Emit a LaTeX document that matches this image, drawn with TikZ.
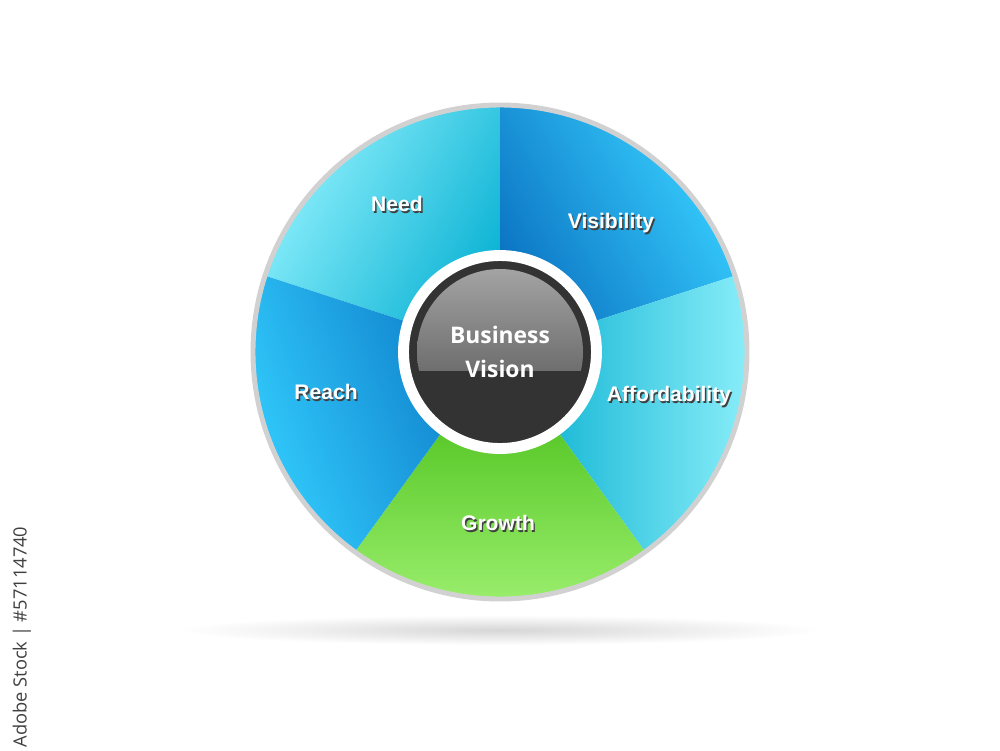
\documentclass[tikz,border=0pt]{standalone}
\usepackage{fontspec}
\setmainfont{Liberation Sans}
\newfontfamily\opensans{Open Sans}
\usetikzlibrary{positioning,calc}

\definecolor{needlight}{HTML}{8EF0FC}
\definecolor{needdark}{HTML}{0AB2D4}
\definecolor{vislight}{HTML}{38D0FF}
\definecolor{visdark}{HTML}{0A72C2}
\definecolor{afflight}{HTML}{92F2FC}
\definecolor{affdark}{HTML}{00ACCE}
\definecolor{growlight}{HTML}{9EF070}
\definecolor{growdark}{HTML}{3CB80C}
\definecolor{reachlight}{HTML}{34D0FF}
\definecolor{reachdark}{HTML}{0A76C6}
\definecolor{hubdark}{HTML}{333333}

\newcommand\shadowed[1]{\leavevmode\rlap{\kern0.4pt\raisebox{-0.4pt}{\textcolor{black!75}{#1}}}#1}

\begin{document}
\begin{tikzpicture}[
  seglabel/.style={text=white, font=\bfseries\fontsize{6}{7}\selectfont},
  hub/.style={circle, fill=hubdark, draw=white, line width=3.1pt,
    minimum size=1.93cm, inner sep=0pt, text=white, align=center,
    font=\opensans\bfseries\fontsize{6.5}{9.6}\selectfont}
]
\useasboundingbox (-5,-3.98) rectangle (5,3.52);
% floor shadow
\shade[inner color=black!16, outer color=white] (0,-2.78) ellipse (3.2 and 0.15);
% wedges
\foreach \a/\dk/\lt/\ang in {90/needdark/needlight/60, 18/visdark/vislight/-60,
    -54/affdark/afflight/-90, -126/growdark/growlight/180, 162/reachdark/reachlight/110}
  \shade[top color=\lt, bottom color=\dk, shading angle=\ang]
    (0,0) -- (\a:2.45) arc[start angle=\a, delta angle=72, radius=2.45] -- cycle;
% rim
\draw[black!18, line width=1.4pt] (0,0) circle (2.47);
% centre
\node[hub, path picture={
    \coordinate (mid) at (path picture bounding box.center);
    \begin{scope}
      \clip ($(mid)+(-1,-0.18)$) rectangle ($(mid)+(1,1)$);
      \shade[top color=black!36, bottom color=black!70] (mid) circle (0.83);
    \end{scope}}] (hub) at (0,0) {Business\\Vision};
% labels
\node[seglabel] (need) at (-1.03,1.47) {\shadowed{Need}};
\node[seglabel] (visibility) at (1.11,1.28) {\shadowed{Visibility}};
\node[seglabel] (affordability) at (1.69,-0.45) {\shadowed{Affordability}};
\node[seglabel] (growth) at (-0.02,-1.72) {\shadowed{Growth}};
\node[seglabel] (reach) at (-1.74,-0.41) {\shadowed{Reach}};
% stock id
\node[rotate=90, text=black!75, font=\opensans\fontsize{5.2}{6}\selectfont] (stockid)
  at (-4.78,-2.85) {Adobe Stock | \#57114740};
\end{tikzpicture}
\end{document}
